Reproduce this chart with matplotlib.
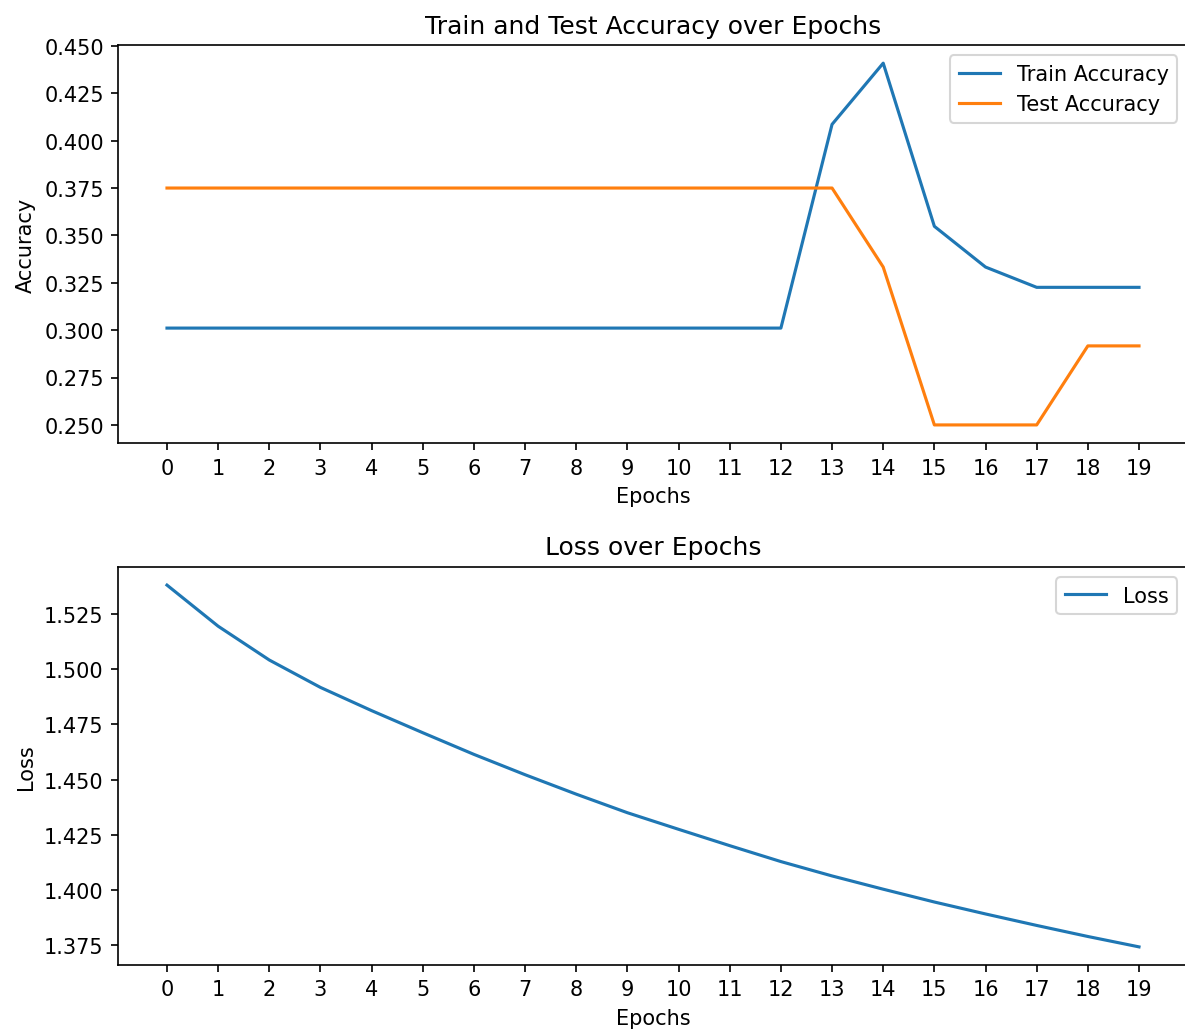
import matplotlib
matplotlib.use("Agg")
import matplotlib.pyplot as plt
import numpy as np

# data
epochs = list(range(20))
train_acc = [0.3011] * 13 + [0.4086, 0.4409, 0.3548, 0.3333, 0.3226, 0.3226, 0.3226]
test_acc = [0.375] * 14 + [0.3333, 0.25, 0.25, 0.25, 0.2917, 0.2917]
loss = [1.5380, 1.5194, 1.5041, 1.4917, 1.4812, 1.4712, 1.4614, 1.4522, 1.4434, 1.4350,
        1.4275, 1.4201, 1.4129, 1.4064, 1.4004, 1.3946, 1.3892, 1.3840, 1.3790, 1.3743]

fig, (ax1, ax2) = plt.subplots(2, 1, figsize=(7.9, 6.893), dpi=150)
fig.subplots_adjust(left=0.0999, right=1.0022, top=0.9555, bottom=0.0658, hspace=0.3116)

# accuracy
ax1.plot(epochs, train_acc, label='Train Accuracy')
ax1.plot(epochs, test_acc, label='Test Accuracy')
ax1.set_title('Train and Test Accuracy over Epochs')
ax1.set_xlabel('Epochs')
ax1.set_ylabel('Accuracy')
ax1.set_xticks(epochs)
ax1.legend()

# loss
ax2.plot(epochs, loss, label='Loss')
ax2.set_title('Loss over Epochs')
ax2.set_xlabel('Epochs')
ax2.set_ylabel('Loss')
ax2.set_xticks(epochs)
ax2.legend()

plt.savefig('out.png', dpi=150)
